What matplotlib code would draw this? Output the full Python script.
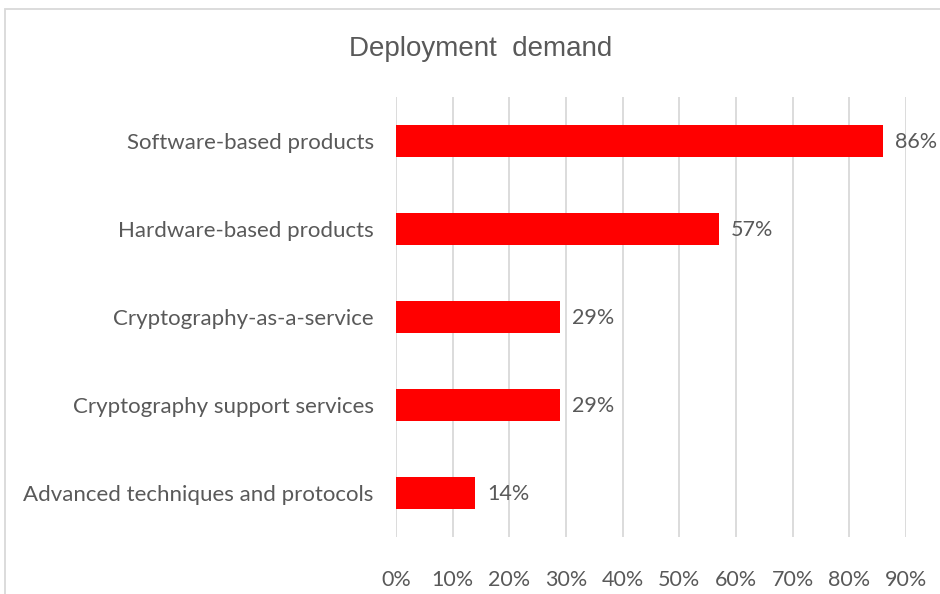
import matplotlib
matplotlib.use("Agg")
import matplotlib.pyplot as plt
from matplotlib.patches import Rectangle
from matplotlib.ticker import FuncFormatter, MultipleLocator

categories = [
    "Software-based products",
    "Hardware-based products",
    "Cryptography-as-a-service",
    "Cryptography support services",
    "Advanced techniques and protocols",
]
shares = [86, 57, 29, 29, 14]
title = "Deployment  demand"

TEXT = "#595959"
GRID = "#d9d9d9"
BAR = "#ff0000"
LABEL_FONT = ["Lato", "DejaVu Sans"]
TITLE_FONT = ["Liberation Sans Narrow", "Liberation Sans", "DejaVu Sans"]

W, H = 940, 594
fig = plt.figure(figsize=(W / 100, H / 100), dpi=100)

# chart frame (partly outside the canvas on the right and bottom)
fig.patches.append(Rectangle((5 / W, -0.1), 1.2, 1 - 9 / H + 0.1,
                             transform=fig.transFigure, fill=False,
                             edgecolor=GRID, linewidth=1.3))

ax = fig.add_axes([396 / W, 1 - 537 / H, (906 - 396) / W, (537 - 97) / H])
y = list(range(len(categories)))
ax.barh(y, shares, height=0.36, color=BAR, zorder=3)

ax.set_xlim(0, 90)
ax.set_ylim(len(categories) - 0.5, -0.5)
ax.xaxis.set_major_locator(MultipleLocator(10))
ax.xaxis.set_major_formatter(FuncFormatter(lambda v, p: f"{v:.0f}%"))
ax.set_yticks(y)
ax.set_yticklabels(categories)

for s in ax.spines.values():
    s.set_visible(False)
ax.grid(axis="x", color=GRID, linewidth=1.3, zorder=0)
ax.tick_params(axis="both", length=0, colors=TEXT)
ax.tick_params(axis="x", pad=24, labelsize=15.5)
ax.tick_params(axis="y", pad=16, labelsize=16)
for t in ax.get_xticklabels() + ax.get_yticklabels():
    t.set_family(LABEL_FONT)

for yi, v in zip(y, shares):
    ax.annotate(f"{v}%", (v, yi), xytext=(8.5, -1), textcoords="offset points",
                ha="left", va="center", color=TEXT, fontsize=15.5,
                family=LABEL_FONT)

fig.text(481 / W, 1 - 49 / H, title, ha="center", va="center",
         color=TEXT, fontsize=20, family=TITLE_FONT)

fig.savefig("out.png", dpi=100, facecolor="white")
